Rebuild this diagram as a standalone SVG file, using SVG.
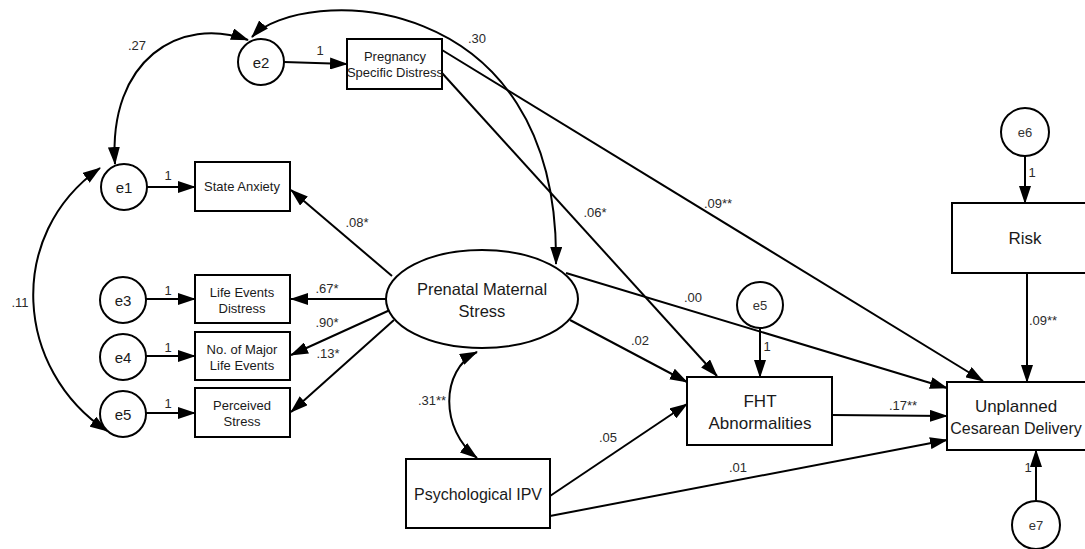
<svg xmlns="http://www.w3.org/2000/svg" width="1085" height="549" viewBox="0 0 1085 549">
  <defs>
    <marker id="ah" viewBox="0 0 18 12" refX="17" refY="6" markerWidth="18" markerHeight="12" markerUnits="userSpaceOnUse" orient="auto-start-reverse">
      <path d="M0,0 L18,6 L0,12 z" fill="#000"/>
    </marker>
    <style>
      .box { fill: #fff; stroke: #000; stroke-width: 2; }
      .err { fill: #fff; stroke: #000; stroke-width: 2; }
      .ln { fill: none; stroke: #000; stroke-width: 2; marker-end: url(#ah); }
      .cov { fill: none; stroke: #000; stroke-width: 2; marker-start: url(#ah); marker-end: url(#ah); }
      text { font-family: "Liberation Sans", Arial, sans-serif; fill: #1a1a1a; text-anchor: middle; dominant-baseline: central; }
      .lbl { font-size: 13px; fill: #2a2a2a; }
      .sm { font-size: 13px; }
      .big { font-size: 16px; }
      .lat { font-size: 16.5px; }
      .out { font-size: 17px; }
      .el { font-size: 15px; }
      .er { font-size: 13px; fill: #333; }
    </style>
  </defs>

  <!-- paths and covariances -->
  <g id="connectors">
    <path class="cov" d="M115,164 C108,60 180,15 248,40"/>
    <path class="cov" d="M252,37 C300,-15 560,-15 556,264"/>
    <path class="cov" d="M100,168 C5,235 15,370 107,431"/>
    <path class="cov" d="M477,352 C440,370 440,430 477,458"/>

    <line class="ln" x1="284" y1="62" x2="347" y2="64"/>
    <line class="ln" x1="147" y1="187" x2="195" y2="187"/>
    <line class="ln" x1="146" y1="299" x2="195" y2="299"/>
    <line class="ln" x1="146" y1="356" x2="195" y2="356"/>
    <line class="ln" x1="146" y1="413" x2="195" y2="413"/>

    <line class="ln" x1="392" y1="276" x2="291" y2="190"/>
    <line class="ln" x1="387" y1="299" x2="291" y2="299"/>
    <line class="ln" x1="390" y1="310" x2="291" y2="355"/>
    <line class="ln" x1="394" y1="320" x2="291" y2="412"/>

    <line class="ln" x1="442" y1="73" x2="717" y2="376"/>
    <line class="ln" x1="442" y1="50" x2="983" y2="381"/>
    <line class="ln" x1="566" y1="273" x2="947" y2="388"/>
    <line class="ln" x1="570" y1="320" x2="687" y2="382"/>
    <line class="ln" x1="550" y1="496" x2="687" y2="404"/>
    <line class="ln" x1="550" y1="516" x2="947" y2="440"/>
    <line class="ln" x1="832" y1="415" x2="947" y2="416"/>

    <line class="ln" x1="760" y1="328" x2="760" y2="377"/>
    <line class="ln" x1="1025" y1="156" x2="1025" y2="203"/>
    <line class="ln" x1="1027" y1="273" x2="1027" y2="382"/>
    <line class="ln" x1="1036" y1="501" x2="1036" y2="450"/>

    <!-- coefficients -->
    <text class="lbl" x="137" y="45">.27</text>
    <text class="lbl" x="477" y="38">.30</text>
    <text class="lbl" x="320" y="50">1</text>
    <text class="lbl" x="20" y="302">.11</text>
    <text class="lbl" x="168" y="175">1</text>
    <text class="lbl" x="168" y="290">1</text>
    <text class="lbl" x="168" y="347">1</text>
    <text class="lbl" x="168" y="403">1</text>
    <text class="lbl" x="357" y="222">.08*</text>
    <text class="lbl" x="327" y="288">.67*</text>
    <text class="lbl" x="327" y="322">.90*</text>
    <text class="lbl" x="328" y="353">.13*</text>
    <text class="lbl" x="595" y="212">.06*</text>
    <text class="lbl" x="718" y="203">.09**</text>
    <text class="lbl" x="693" y="297">.00</text>
    <text class="lbl" x="640" y="340">.02</text>
    <text class="lbl" x="608" y="437">.05</text>
    <text class="lbl" x="432" y="400">.31**</text>
    <text class="lbl" x="903" y="405">.17**</text>
    <text class="lbl" x="738" y="467">.01</text>
    <text class="lbl" x="1043" y="320">.09**</text>
    <text class="lbl" x="1032" y="172">1</text>
    <text class="lbl" x="767" y="346">1</text>
    <text class="lbl" x="1028" y="467">1</text>
  </g>

  <!-- error terms -->
  <g id="e2"><circle class="err" cx="261" cy="62" r="23"/><text class="el" x="261" y="62">e2</text></g>
  <g id="e1"><circle class="err" cx="124" cy="187" r="23"/><text class="el" x="124" y="187">e1</text></g>
  <g id="e3"><circle class="err" cx="123" cy="300" r="23"/><text class="el" x="123" y="300">e3</text></g>
  <g id="e4"><circle class="err" cx="123" cy="357" r="23"/><text class="el" x="123" y="357">e4</text></g>
  <g id="e5-left"><circle class="err" cx="123" cy="414" r="23"/><text class="el" x="123" y="414">e5</text></g>
  <g id="e5-right"><circle class="err" cx="760" cy="305" r="23"/><text class="er" x="760" y="305">e5</text></g>
  <g id="e6"><circle class="err" cx="1025" cy="132" r="24"/><text class="er" x="1025" y="132">e6</text></g>
  <g id="e7"><circle class="err" cx="1036" cy="525" r="24"/><text class="er" x="1036" y="525">e7</text></g>

  <!-- observed variables -->
  <g id="pregnancy-distress"><rect class="box" x="347" y="39" width="95" height="50"/><text class="sm" x="395" y="56">Pregnancy</text><text class="sm" x="395" y="72">Specific Distress</text></g>
  <g id="state-anxiety"><rect class="box" x="195" y="162" width="95" height="49"/><text class="sm" x="242" y="186">State Anxiety</text></g>
  <g id="life-events-distress"><rect class="box" x="195" y="275" width="95" height="48"/><text class="sm" x="242" y="292">Life Events</text><text class="sm" x="242" y="308">Distress</text></g>
  <g id="major-life-events"><rect class="box" x="195" y="332" width="95" height="48"/><text class="sm" x="242" y="349">No. of Major</text><text class="sm" x="242" y="365">Life Events</text></g>
  <g id="perceived-stress"><rect class="box" x="195" y="388" width="95" height="49"/><text class="sm" x="242" y="405">Perceived</text><text class="sm" x="242" y="421">Stress</text></g>
  <g id="psych-ipv"><rect class="box" x="406" y="459" width="144" height="69"/><text class="big" x="478" y="494">Psychological IPV</text></g>
  <g id="fht"><rect class="box" x="687" y="377" width="145" height="68"/><text class="out" x="760" y="401">FHT</text><text class="out" x="760" y="423">Abnormalities</text></g>
  <g id="risk"><rect class="box" x="952" y="203" width="146" height="70"/><text class="out" x="1025" y="238">Risk</text></g>
  <g id="unplanned-cesarean"><rect class="box" x="947" y="382" width="146" height="68"/><text class="out" x="1016" y="406">Unplanned</text><text class="big" x="1016" y="428">Cesarean Delivery</text></g>

  <!-- latent variable -->
  <g id="prenatal-stress"><ellipse class="box" cx="482" cy="299" rx="96" ry="49"/><text class="lat" x="482" y="289">Prenatal Maternal</text><text class="lat" x="482" y="311">Stress</text></g>
</svg>
